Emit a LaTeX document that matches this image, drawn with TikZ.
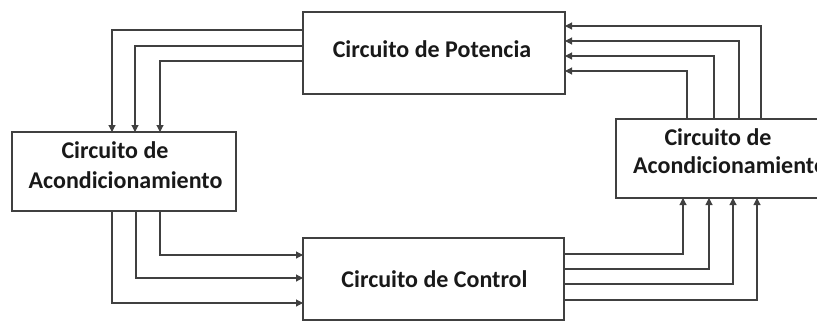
\documentclass[tikz,border=0pt]{standalone}
\usepackage{fontspec}
\setmainfont{Carlito}
\usetikzlibrary{calc,arrows.meta}
\begin{document}
\begin{tikzpicture}[x=1pt,y=-1pt,
  box/.style={draw=black!75,line width=1.1pt,fill=white,inner sep=0pt,outer sep=0pt},
  lbl/.style={anchor=base,inner sep=0pt,font=\fontsize{24}{30}\selectfont\bfseries,text=black!90},
  arr/.style={draw=black!75,line width=1.1pt,-{Triangle[length=7pt,width=7pt]}}]
\clip (0,0) rectangle (817,333);
\fill[white] (0,0) rectangle (817,333);
\node[box,minimum width=262pt,minimum height=82pt] (pot) at (434,53) {};
\node[box,minimum width=224pt,minimum height=79pt] (acL) at (124,171.5) {};
\node[box,minimum width=228pt,minimum height=79pt] (acR) at (730,158.5) {};
\node[box,minimum width=261pt,minimum height=82pt] (ctl) at (433.5,279) {};
\node[lbl] (potT) at (432,57) {Circuito de Potencia};
\node[lbl] (ctlT) at (434.5,287) {Circuito de Control};
\node[lbl] (acLa) at (115,158) {Circuito de};
\node[lbl] (acLb) at (125.5,188) {Acondicionamiento};
\node[lbl] (acRa) at (718,145) {Circuito de};
\node[lbl] (acRb) at (730,173) {Acondicionamiento};
% Potencia -> left acond
\draw[arr] ($(pot.north west)+(0,18)$) -| ($(acL.north west)+(100,0)$);
\draw[arr] ($(pot.north west)+(0,34)$) -| ($(acL.north west)+(123,0)$);
\draw[arr] ($(pot.north west)+(0,49)$) -| ($(acL.north west)+(148,0)$);
% right acond -> Potencia
\draw[arr] ($(acR.north west)+(145,0)$) |- ($(pot.north east)+(0,14)$);
\draw[arr] ($(acR.north west)+(123,0)$) |- ($(pot.north east)+(0,29)$);
\draw[arr] ($(acR.north west)+(98,0)$) |- ($(pot.north east)+(0,44)$);
\draw[arr] ($(acR.north west)+(71,0)$) |- ($(pot.north east)+(0,59)$);
% Control -> right acond
\draw[arr] ($(ctl.north east)+(0,16)$) -| ($(acR.south west)+(67,0)$);
\draw[arr] ($(ctl.north east)+(0,31)$) -| ($(acR.south west)+(93,0)$);
\draw[arr] ($(ctl.north east)+(0,46)$) -| ($(acR.south west)+(117,0)$);
\draw[arr] ($(ctl.north east)+(0,62)$) -| ($(acR.south west)+(141,0)$);
% left acond -> Control
\draw[arr] ($(acL.south west)+(148,0)$) |- ($(ctl.north west)+(0,17)$);
\draw[arr] ($(acL.south west)+(124,0)$) |- ($(ctl.north west)+(0,40)$);
\draw[arr] ($(acL.south west)+(100,0)$) |- ($(ctl.north west)+(0,65)$);
\end{tikzpicture}
\end{document}
